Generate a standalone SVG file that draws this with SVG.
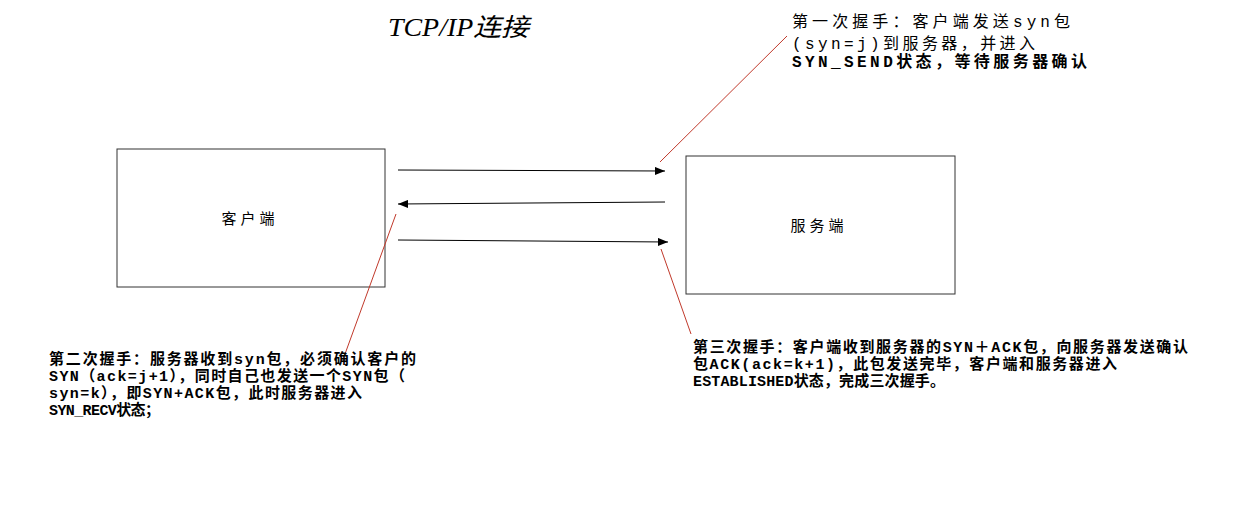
<svg xmlns="http://www.w3.org/2000/svg" width="1250" height="532" viewBox="0 0 1250 532">
<defs>
<style>
.box{fill:#fff;stroke:#333;stroke-width:1}
.arr{stroke:#000;stroke-width:1;fill:none;marker-end:url(#ah)}
.red{stroke:#c0392b;stroke-width:1;fill:none}
.t{font-family:"Liberation Mono","Noto Sans CJK SC",monospace;font-size:16px;fill:#000}
.b{font-weight:bold;font-size:15px}
.n{font-family:"Noto Sans CJK SC",sans-serif;font-size:15px;fill:#000}
</style>
<marker id="ah" markerWidth="10" markerHeight="8" refX="10" refY="4" orient="auto" markerUnits="userSpaceOnUse"><path d="M0,0 L10,4 L0,8 Z" fill="#000"/></marker>
</defs>
<rect width="1250" height="532" fill="#fff"/>
<text x="388" y="36" font-family="Liberation Serif,Noto Sans CJK SC,serif" font-style="italic" font-size="25" textLength="141" lengthAdjust="spacingAndGlyphs">TCP/IP连接</text>
<g id="client"><rect class="box" x="117" y="149" width="268" height="138"/><text class="n" x="250" y="224" text-anchor="middle" letter-spacing="4">客户端</text></g>
<g id="server"><rect class="box" x="686" y="156" width="269" height="138"/><text class="n" x="819" y="231" text-anchor="middle" letter-spacing="4">服务端</text></g>
<g id="connectors">
<line class="arr" x1="398" y1="170" x2="665" y2="171"/>
<line class="arr" x1="665" y1="202" x2="398" y2="204"/>
<line class="arr" x1="398" y1="240" x2="668" y2="242"/>
<line class="red" x1="660" y1="162" x2="787" y2="36"/>
<line class="red" x1="345" y1="354" x2="396" y2="214"/>
<line class="red" x1="691" y1="334" x2="661" y2="249"/>
</g>
<g id="note1" class="t" lengthAdjust="spacingAndGlyphs"><text x="792" y="27" textLength="278">第一次握手：客户端发送syn包</text><text x="792" y="49" textLength="243">(syn=j)到服务器，并进入</text><text x="792" y="67" font-weight="bold" textLength="295">SYN_SEND状态，等待服务器确认</text></g>
<g id="note2" class="t b"><text x="49" y="364" textLength="367">第二次握手：服务器收到syn包，必须确认客户的</text><text x="49" y="381" textLength="356">SYN（ack=j+1），同时自己也发送一个SYN包（</text><text x="49" y="398" textLength="313">syn=k），即SYN+ACK包，此时服务器进入</text><text x="49" y="415" textLength="111">SYN_RECV状态；</text></g>
<g id="note3" class="t b"><text x="693" y="352" textLength="495">第三次握手：客户端收到服务器的SYN＋ACK包，向服务器发送确认</text><text x="693" y="369" textLength="424">包ACK(ack=k+1)，此包发送完毕，客户端和服务器进入</text><text x="693" y="386" textLength="252">ESTABLISHED状态，完成三次握手。</text></g>
</svg>
